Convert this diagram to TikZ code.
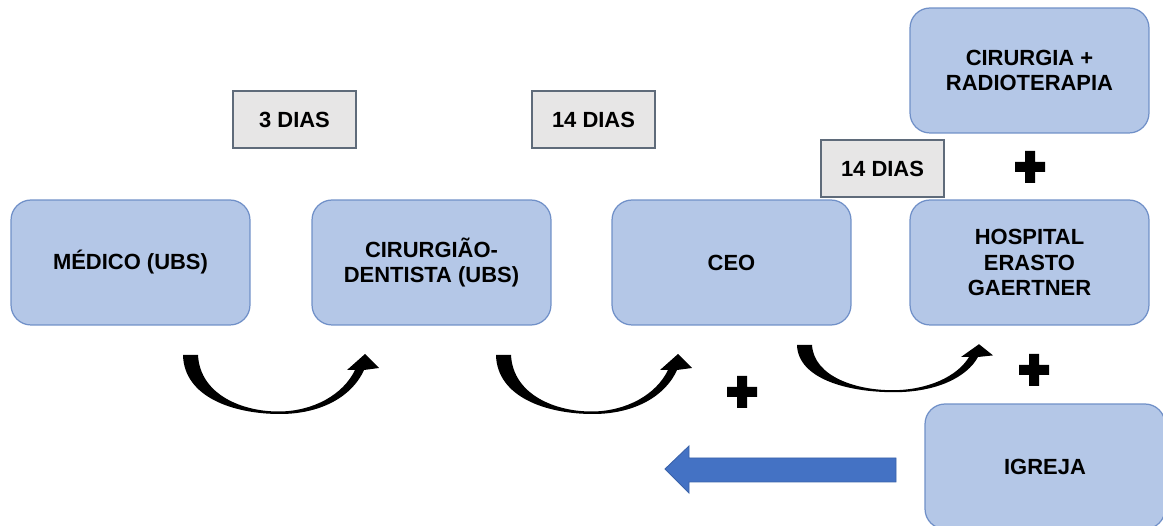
\documentclass[tikz,border=0pt]{standalone}
\usepackage{fontspec}
\setmainfont{Liberation Sans}
\definecolor{boxfill}{HTML}{B4C7E7}
\definecolor{boxline}{HTML}{7090C8}
\definecolor{grayfill}{HTML}{E7E6E6}
\definecolor{grayline}{HTML}{5F6B7A}
\definecolor{arrowblue}{HTML}{4472C4}
\definecolor{arrowline}{HTML}{3A62AA}
\newcommand{\curvarrow}{%
  \fill[black] (0,0) .. controls (1,42) and (50,59) .. (97,59)
    .. controls (140,59) and (170,40) .. (181,15) -- (196,13) -- (182,-1)
    -- (164,15) -- (172,15) .. controls (160,40) and (130,56) .. (97,56.5)
    .. controls (60,57) and (17,40) .. (15,0) -- cycle;}
\newcommand{\plussign}[2]{%
  \begin{scope}[shift={(#1,#2)}]
  \fill[black]
    (-5,-16) -- (5,-16) -- (5,-5) -- (15,-5) -- (15,5)
    -- (5,5) -- (5,16) -- (-5,16) -- (-5,5) -- (-15,5)
    -- (-15,-5) -- (-5,-5) -- cycle;
  \end{scope}}
\tikzset{
  bluebox/.style={draw=boxline, line width=0.7pt, fill=boxfill, rounded corners=0.4cm,
    minimum width=4.78cm, minimum height=2.5cm, align=center, inner sep=0pt,
    font=\fontsize{12.5}{14.3}\selectfont\bfseries},
  daybox/.style={draw=grayline, line width=0.7pt, fill=grayfill,
    minimum width=2.46cm, minimum height=1.14cm, align=center, inner sep=0pt,
    font=\fontsize{12.5}{14.3}\selectfont\bfseries}
}
\begin{document}
\begin{tikzpicture}[x=0.02cm, y=-0.02cm]
\useasboundingbox (0,0) rectangle (1163,526);
\clip (0,0) rectangle (1163,526);
\node[bluebox] (medico) at (130.5,262.5) {MÉDICO (UBS)};
\node[bluebox] (dentista) at (431.5,262.5) {CIRURGIÃO-\\DENTISTA (UBS)};
\node[bluebox] (ceo) at (731.5,262.5) {CEO};
\node[bluebox] (hospital) at (1029.5,262.5) {HOSPITAL\\ERASTO\\GAERTNER};
\node[bluebox] (cirurgia) at (1029.5,70.5) {CIRURGIA +\\RADIOTERAPIA};
\node[bluebox, minimum width=4.8cm] (igreja) at (1045,466.5) {IGREJA};
\node[daybox] (d1) at (294.5,119.5) {3 DIAS};
\node[daybox] (d2) at (593.5,119.5) {14 DIAS};
\node[daybox] (d3) at (882.5,168.5) {14 DIAS};
\begin{scope}[shift={(183,355)}]\curvarrow\end{scope}
\begin{scope}[shift={(496,355)}]\curvarrow\end{scope}
\begin{scope}[shift={(797,345)}, yscale=0.8]\curvarrow\end{scope}
\plussign{742}{392}
\plussign{1030}{167}
\plussign{1034}{370}
\filldraw[fill=arrowblue, draw=arrowline, line width=0.5pt]
  (896,458) -- (689,458) -- (689,446) -- (665,469) -- (689,493) -- (689,482) -- (896,482) -- cycle;
\end{tikzpicture}
\end{document}
